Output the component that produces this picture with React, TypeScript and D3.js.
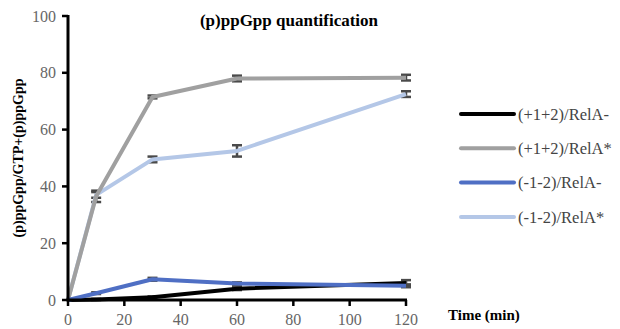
import React from 'react';
import * as d3 from 'd3';

const times = [0, 10, 30, 60, 120];
const seriesNames = ['(+1+2)/RelA-', '(+1+2)/RelA*', '(-1-2)/RelA-', '(-1-2)/RelA*'];
const seriesColors = ['#000000', '#a0a0a0', '#4f6fc4', '#b4c7e7'];
const plusRelAMinus = [0, 0.2, 1, 4, 6];
const plusRelAStar = [0, 36.5, 71.5, 78, 78.3];
const minusRelAMinus = [0, 2.4, 7.3, 5.8, 5];
const minusRelAStar = [0, 37, 49.5, 52.5, 72.5];
const plusRelAMinusErr = [0, 0.2, 0.3, 0.5, 1];
const plusRelAStarErr = [0, 2, 0.5, 1, 1];
const minusRelAMinusErr = [0, 0.3, 0.5, 0.4, 0.5];
const minusRelAStarErr = [0, 1, 1, 2, 1];
const yTicks = [0, 20, 40, 60, 80, 100];
const xTicks = [0, 20, 40, 60, 80, 100, 120];

const allValues = [plusRelAMinus, plusRelAStar, minusRelAMinus, minusRelAStar];
const allErrors = [plusRelAMinusErr, plusRelAStarErr, minusRelAMinusErr, minusRelAStarErr];

const W = 620;
const H = 329;
const font = { fontFamily: '"Liberation Serif"' };

export default function App() {
  const x = d3.scaleLinear().domain([0, 120]).range([68, 406]);
  const y = d3.scaleLinear().domain([0, 100]).range([300, 16]);
  const line = d3.line<number>()
    .x((_, i) => x(times[i]))
    .y(d => y(d));

  return (
    <svg width={W} height={H} style={{ position: 'absolute', left: 0, top: 0, background: '#fff' }}>
      {/* error bars */}
      {allValues.map((vals, s) => (
        <g key={'e' + s} stroke="#4a4a4a" strokeWidth={2.5}>
          {vals.map((v, i) => {
            const e = allErrors[s][i];
            if (e <= 0 || times[i] === 0) return null;
            const cx = x(times[i]);
            return (
              <g key={i}>
                <line x1={cx} x2={cx} y1={y(v - e)} y2={y(v + e)} />
                <line x1={cx - 5} x2={cx + 5} y1={y(v - e)} y2={y(v - e)} />
                <line x1={cx - 5} x2={cx + 5} y1={y(v + e)} y2={y(v + e)} />
              </g>
            );
          })}
        </g>
      ))}

      {/* lines */}
      {[3, 1, 0, 2].map(s => (
        <path key={s} d={line(allValues[s]) || ''} fill="none"
          stroke={seriesColors[s]} strokeWidth={4} strokeLinejoin="round" />
      ))}

      {/* y axis */}
      <line x1={68} x2={68} y1={y(100) - 1} y2={y(0)} stroke="#000" strokeWidth={3} />
      {yTicks.map(t => (
        <g key={t}>
          <line x1={62} x2={68} y1={y(t)} y2={y(t)} stroke="#000" strokeWidth={2.5} />
          <text x={56} y={y(t)} dy="0.35em" textAnchor="end" style={font}
            fontSize={16} fill="#666">{t}</text>
        </g>
      ))}

      {/* x axis */}
      <line x1={66.5} x2={x(120) + 1} y1={y(0)} y2={y(0)} stroke="#000" strokeWidth={3} />
      {xTicks.map(t => (
        <g key={t}>
          <line x1={x(t)} x2={x(t)} y1={y(0)} y2={y(0) + 6} stroke="#000" strokeWidth={2.5} />
          <text x={x(t)} y={y(0) + 25} textAnchor="middle" style={font}
            fontSize={16} fill="#666">{t}</text>
        </g>
      ))}

      {/* titles */}
      <text x={289} y={26} textAnchor="middle" fontWeight="bold" style={font}
        fontSize={17} fill="#000">(p)ppGpp quantification</text>
      <text transform="translate(23,158) rotate(-90)" textAnchor="middle" style={font}
        fontWeight="bold" fontSize={14} fill="#000">(p)ppGpp/GTP+(p)ppGpp</text>
      <text x={448} y={320} fontWeight="bold" fontSize={15} style={font}
        fill="#000">Time (min)</text>

      {/* legend */}
      {seriesNames.map((name, i) => {
        const ly = 114 + i * 34.3;
        return (
          <g key={name}>
            <line x1={461} x2={514} y1={ly} y2={ly} stroke={seriesColors[i]} strokeWidth={4}
              strokeLinecap="round" />
            <text x={518} y={ly} dy="0.35em" fontSize={16.5} style={font}
              fill="#444">{name}</text>
          </g>
        );
      })}
    </svg>
  );
}
